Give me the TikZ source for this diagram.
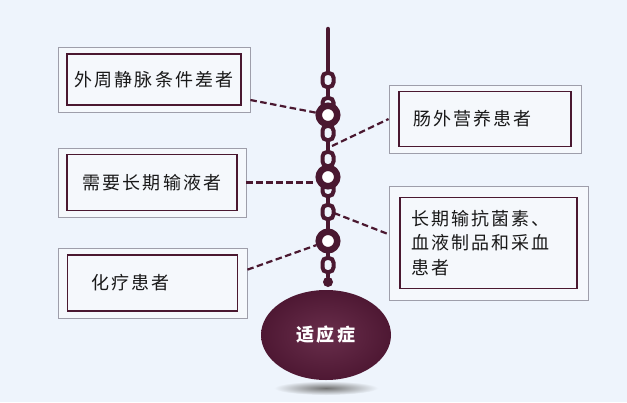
\documentclass[tikz,border=0pt]{standalone}
\usepackage{fontspec}
\newfontfamily\cjk[LetterSpace=12]{Noto Sans CJK SC}
\usetikzlibrary{positioning,shapes.geometric,shadows}
\definecolor{bgcol}{RGB}{238,244,252}
\definecolor{boxfill}{RGB}{245,248,252}
\definecolor{chaincol}{RGB}{74,24,48}
\definecolor{plum}{RGB}{92,28,60}
\definecolor{framegray}{RGB}{158,158,170}

\begin{document}
\begin{tikzpicture}[x=1pt,y=-1pt]
\tikzset{obox/.style={draw=framegray,line width=0.8pt,fill=boxfill,inner sep=0pt,drop shadow={shadow xshift=1pt,shadow yshift=-1.2pt,opacity=0.3}},
  ibox/.style={draw=chaincol,line width=1.6pt,inner sep=0pt,text=black!90,font=\cjk\fontsize{18}{24.5}\selectfont},
  link/.style={draw=chaincol,line width=4pt,fill=bgcol,rounded corners=4.5pt,minimum width=11pt,minimum height=14pt,inner sep=0pt},
  ring/.style={circle,draw=chaincol,line width=6.5pt,fill=white,minimum size=18.5pt,inner sep=0pt},
  conn/.style={draw=chaincol,line width=2.2pt,dash pattern=on 6.5pt off 3.5pt}}
\fill[bgcol] (0,0) rectangle (627,402);
% left boxes
\node[obox,minimum width=192pt,minimum height=65pt] (o1) at (154,79.5) {};
\node[ibox,minimum width=174pt,minimum height=51pt,align=center] (b1) at (o1.center) {外周静脉条件差者};
\node[obox,minimum width=188pt,minimum height=69pt] (o2) at (152,182.5) {};
\node[ibox,minimum width=170pt,minimum height=56pt,align=center] (b2) at (o2.center) {需要长期输液者};
\node[obox,minimum width=189pt,minimum height=70pt] (o3) at (152.5,283) {};
\node[ibox,text width=122pt,inner xsep=24pt,minimum height=56pt,align=left] (b3) at (o3.center) {化疗患者};
% right boxes
\node[obox,minimum width=192pt,minimum height=68pt] (o4) at (485,119) {};
\node[ibox,text width=144pt,inner xsep=14pt,minimum height=55pt,align=left] (b4) at (o4.center) {肠外营养患者};
\node[obox,minimum width=199pt,minimum height=114pt] (o5) at (488.5,243) {};
\node[ibox,text width=155pt,inner xsep=11pt,minimum height=91pt,align=left] (b5) at (o5.center) {长期输抗菌素、\\血液制品和采血\\患者};
% shadow and base
\shade[inner color=black!55,outer color=bgcol] (326,388) ellipse (52 and 7);
\node[ellipse,minimum width=130pt,minimum height=90pt,inner color=plum!92!white,outer color=plum!85!black,text=white,font=\cjk\bfseries\fontsize{18}{20}\selectfont] (base) at (326,335) {适应症};
% chain
\coordinate (top) at (328,29);
\node[circle,fill=chaincol,minimum size=10pt,inner sep=0pt] (dot) at (328,282) {};
\draw[chaincol,line width=4.5pt,line cap=round] (top) -- (dot);
\foreach \y in {80,105,133,159,189,212,265}
  \node[link] (lk\y) at (328,\y) {};
\node[ring] (r1) at (328,115) {};
\node[ring] (r2) at (328,177) {};
\node[ring] (r3) at (328,241) {};
\coordinate (c4) at (332,146);
\coordinate (c5) at (334,213);
% connectors
\draw[conn] (o1.-12) -- (r1);
\draw[conn] (o2.east) -- (r2.west |- o2.east);
\draw[conn] (o3.8) -- (r3);
\draw[conn] (c4) -- (o4.west);
\draw[conn] (c5) -- (o5.175);
\end{tikzpicture}
\end{document}
